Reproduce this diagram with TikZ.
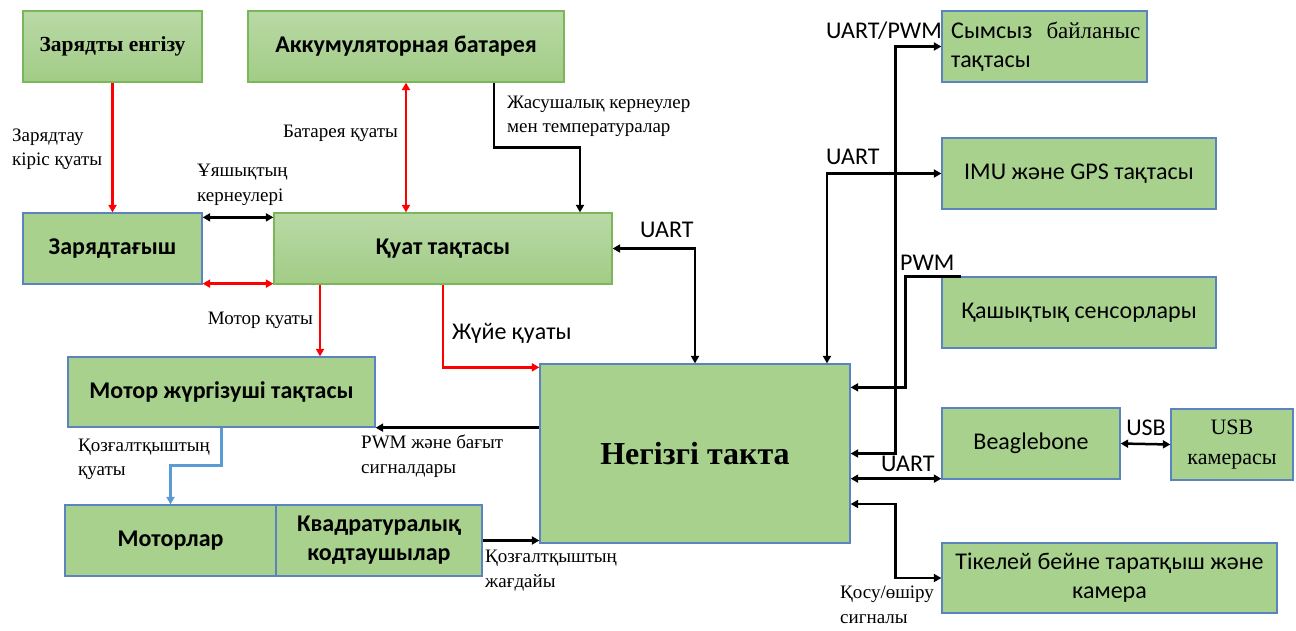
\documentclass[tikz,border=0pt]{standalone}
\usepackage{fontspec}
\setmainfont{Liberation Serif}
\newfontfamily\clb{Carlito}
\usetikzlibrary{arrows.meta}
\definecolor{boxgreen}{HTML}{A9D18E}
\definecolor{gtop}{HTML}{B9D9A6}
\definecolor{gbot}{HTML}{A2CC86}
\definecolor{gborder}{HTML}{7CB65A}
\definecolor{bborder}{HTML}{5B83C0}
\definecolor{arrred}{HTML}{FF0000}
\definecolor{arrblue}{HTML}{5B9BD5}
\tikzset{
  box/.style={draw=bborder, fill=boxgreen, line width=1.3pt, inner sep=2pt, align=center,
    font=\clb\fontsize{24}{29}\selectfont},
  gbox/.style={box, draw=gborder, top color=gtop, bottom color=gbot},
  bt/.style={font=\clb\bfseries\fontsize{24}{29}\selectfont},
  lbl/.style={font=\fontsize{19}{24.5}\selectfont, inner sep=0pt, align=left},
  slbl/.style={font=\clb\fontsize{24}{26}\selectfont, inner sep=0pt, align=left},
  conn/.style={line width=2.5pt, black},
  rconn/.style={line width=2.5pt, arrred},
  bconn/.style={line width=2.5pt, arrblue},
}
\begin{document}
\begin{tikzpicture}[x=1pt,y=-1pt,>={Triangle[length=7.5pt,width=8pt]}]
\useasboundingbox (0,0) rectangle (1296,630);
\fill[white] (0,0) rectangle (1296,630);

% boxes
\node[gbox,bt,minimum width=179pt,minimum height=71pt] (zi) at (112.5,46.5) {\rmfamily\bfseries\fontsize{21.5}{29}\selectfont Зарядты енгізу};
\node[gbox,bt,minimum width=316pt,minimum height=71pt] (akk) at (406,46.5) {Аккумуляторная батарея};
\node[box,bt,minimum width=179pt,minimum height=71pt] (zar) at (112.5,248.5) {Зарядтағыш};
\node[gbox,bt,minimum width=338pt,minimum height=71pt] (kuat) at (443,248.5) {Қуат тақтасы};
\node[box,bt,minimum width=307pt,minimum height=70pt] (mdrv) at (221.5,392) {Мотор жүргізуші тақтасы};
\node[box,bt,minimum width=211pt,minimum height=71pt] (mot) at (170.5,540.5) {Моторлар};
\node[box,bt,minimum width=206pt,minimum height=71pt] (kvad) at (379,540.5) {Квадратуралық\\кодтаушылар};
\node[box,minimum width=310pt,minimum height=179pt,font=\rmfamily\bfseries\fontsize{32}{36}\selectfont] (neg) at (695,453.5) {Негізгі такта};
\node[box,minimum width=205pt,minimum height=71pt] (sym) at (1044.5,46.5) {};
\node[anchor=north west,align=left,inner sep=0pt,font=\clb\fontsize{24}{29}\selectfont] (symt) at (951,22) {Сымсыз\hspace{14pt}{\rmfamily\fontsize{23}{29}\selectfont байланыс}\\тақтасы};
\node[box,minimum width=274pt,minimum height=71pt] (imu) at (1079,173.5) {IMU және GPS тақтасы};
\node[box,minimum width=274pt,minimum height=71pt] (kash) at (1079,312.5) {Қашықтық сенсорлары};
\node[box,minimum width=178pt,minimum height=71pt] (beag) at (1031,443.5) {Beaglebone};
\node[box,minimum width=122pt,minimum height=71pt,font=\rmfamily\fontsize{22}{30}\selectfont] (usb) at (1232,444.5) {USB\\камерасы};
\node[box,minimum width=335pt,minimum height=70pt] (tik) at (1109.5,578) {Тікелей бейне таратқыш және\\камера};

% connectors left
\draw[rconn,->] (zi.south) -- (zar.north);
\draw[rconn,<->] (akk.south) -- (akk.south |- kuat.north);
\draw[conn,<->] ([yshift=-5pt]zar.north east) -- ([yshift=-5pt]kuat.north west);
\draw[rconn,<->] ([yshift=1pt]zar.south east) -- ([yshift=1pt]kuat.south west);
\draw[conn,->] ([xshift=88pt]akk.south) -- ++(0,65) -| ([xshift=137pt]kuat.north);
\draw[conn,<->] (kuat.east) -| (neg.north);
\draw[rconn,->] ([xshift=-123pt]kuat.south) -- ([xshift=-123pt]kuat.south |- mdrv.north);
\draw[rconn,->] (kuat.south) |- ([yshift=-4pt]neg.north west);
\draw[conn,->] (neg.west |- mdrv.south east) -- (mdrv.south east);
\draw[bconn,->] (mdrv.south) -- ++(0,38) -| (mot.north);
\draw[conn,->] (kvad.east) -- (neg.west |- kvad.east);

% connectors right
\draw[conn,<->] (neg.east) -- ++(45,0) |- (sym.west);
\draw[conn,<->] ([xshift=132pt]neg.north) |- (imu.west);
\draw[conn,->] ([xshift=20pt]kash.north west) -- ++(-56,0) |- ([yshift=-24pt]neg.north east);
\draw[conn,<->] ([yshift=1pt]neg.east |- beag.south west) -- ([yshift=1pt]beag.south west);
\draw[conn,<->] ([yshift=-50.5pt]neg.east) -- ++(45,0) |- (tik.west);
\draw[conn,<->] (beag.east) -- (usb.west);

% labels
\node[lbl,anchor=west] (l1) at (12,149.5) {Зарядтау\\кіріс қуаты};
\node[lbl,anchor=east] (l2) at (398,133) {Батарея қуаты};
\node[lbl,anchor=west] (l3) at (197,185) {Ұяшықтың\\кернеулері};
\node[lbl,anchor=west] (l4) at (507,116.5) {Жасушалық кернеулер\\мен температуралар};
\node[slbl,anchor=west] (l5) at (640,230) {UART};
\node[lbl,anchor=east] (l6) at (313,320) {Мотор қуаты};
\node[slbl,anchor=west] (l7) at (452,333) {Жүйе қуаты};
\node[lbl,anchor=west] (l8) at (78,459.5) {Қозғалтқыштың\\қуаты};
\node[lbl,anchor=west] (l9) at (361,456) {PWM және бағыт\\сигналдары};
\node[lbl,anchor=west] (l10) at (485,570.5) {Қозғалтқыштың\\жағдайы};
\node[slbl,anchor=west] (l11) at (826,31) {UART/PWM};
\node[slbl,anchor=west] (l12) at (826,157) {UART};
\node[slbl,anchor=west] (l13) at (900,263) {PWM};
\node[slbl,anchor=west] (l14) at (881,464) {UART};
\node[slbl] (l15) at (1146,428) {USB};
\node[lbl,anchor=west] (l16) at (840,605) {Қосу/өшіру\\сигналы};
\end{tikzpicture}
\end{document}
